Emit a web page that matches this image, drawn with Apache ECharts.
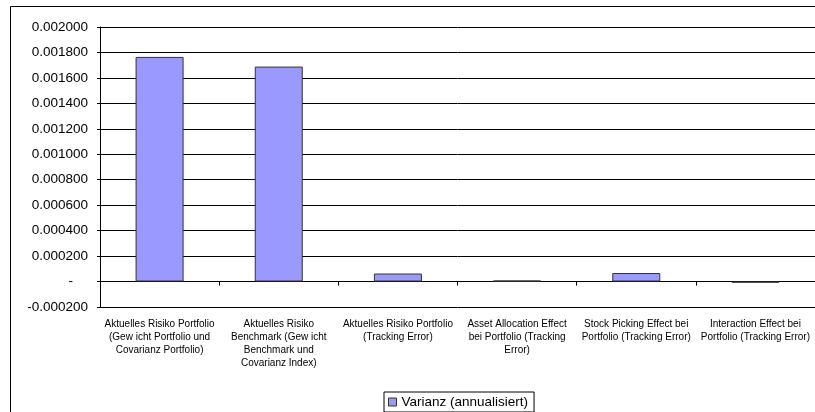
<!DOCTYPE html>
<html>
<head>
<meta charset="utf-8">
<script src="https://cdn.jsdelivr.net/npm/echarts@6/dist/echarts.min.js"></script>
<style>
html,body{margin:0;padding:0;background:#fff;}
#chart{width:815px;height:412px;}
</style>
</head>
<body>
<div id="chart"></div>
<script>
var categories = [
  "Aktuelles Risiko Portfolio\n(Gew icht Portfolio und\nCovarianz Portfolio)",
  "Aktuelles Risiko\nBenchmark (Gew icht\nBenchmark und\nCovarianz Index)",
  "Aktuelles Risiko Portfolio\n(Tracking Error)",
  "Asset Allocation Effect\nbei Portfolio (Tracking\nError)",
  "Stock Picking Effect bei\nPortfolio (Tracking Error)",
  "Interaction Effect bei\nPortfolio (Tracking Error)"
];
var seriesName = "Varianz (annualisiert)";
var varianzValues = [0.001765, 0.001689, 0.000063, 0.000008, 0.000067, -0.000009];
var yMin = -0.0002, yMax = 0.002, yStep = 0.0002;

var chart = echarts.init(document.getElementById('chart'), null, {renderer: 'canvas'});
chart.setOption({
  animation: false,
  backgroundColor: '#fff',
  textStyle: {fontFamily: 'Arial, "Liberation Sans", sans-serif'},
  graphic: [{
    type: 'rect', shape: {x: 10.5, y: 6.5, width: 900, height: 500},
    style: {fill: 'none', stroke: '#000', lineWidth: 1}, z: -10
  }],
  grid: {left: 100, top: 27, width: 718, height: 280, containLabel: false},
  legend: {
    data: [seriesName],
    left: 384, top: 392,
    orient: 'horizontal',
    icon: 'rect',
    itemWidth: 8, itemHeight: 8,
    padding: [3, 6, 3, 4],
    borderColor: '#000', borderWidth: 1,
    textStyle: {fontSize: 13.5, color: '#000', fontFamily: 'Arial, "Liberation Sans", sans-serif'},
    itemStyle: {borderColor: '#333', borderWidth: 1}
  },
  xAxis: {
    type: 'category',
    data: categories,
    boundaryGap: true,
    axisLine: {show: true, onZero: true, lineStyle: {color: '#000', width: 1}},
    axisTick: {show: true, inside: false, length: 4, lineStyle: {color: '#000'}},
    axisLabel: {interval: 0, margin: 11, fontSize: 10, lineHeight: 13, color: '#000', align: 'center'},
    splitLine: {show: false}
  },
  yAxis: {
    type: 'value',
    min: yMin, max: yMax, interval: yStep,
    axisLine: {show: true, lineStyle: {color: '#000', width: 1}},
    axisTick: {show: true, inside: false, length: 3, lineStyle: {color: '#000'}},
    axisLabel: {
      fontSize: 13.5, color: '#000', margin: 12,
      formatter: function (v) { return Math.abs(v) < 1e-12 ? '-    ' : v.toFixed(6); }
    },
    splitLine: {show: true, lineStyle: {color: '#000', width: 1}}
  },
  series: [{
    name: seriesName,
    type: 'bar',
    data: varianzValues,
    barWidth: 48,
    itemStyle: {color: '#9999FF', borderColor: '#333', borderWidth: 1}
  }]
});
</script>
</body>
</html>
